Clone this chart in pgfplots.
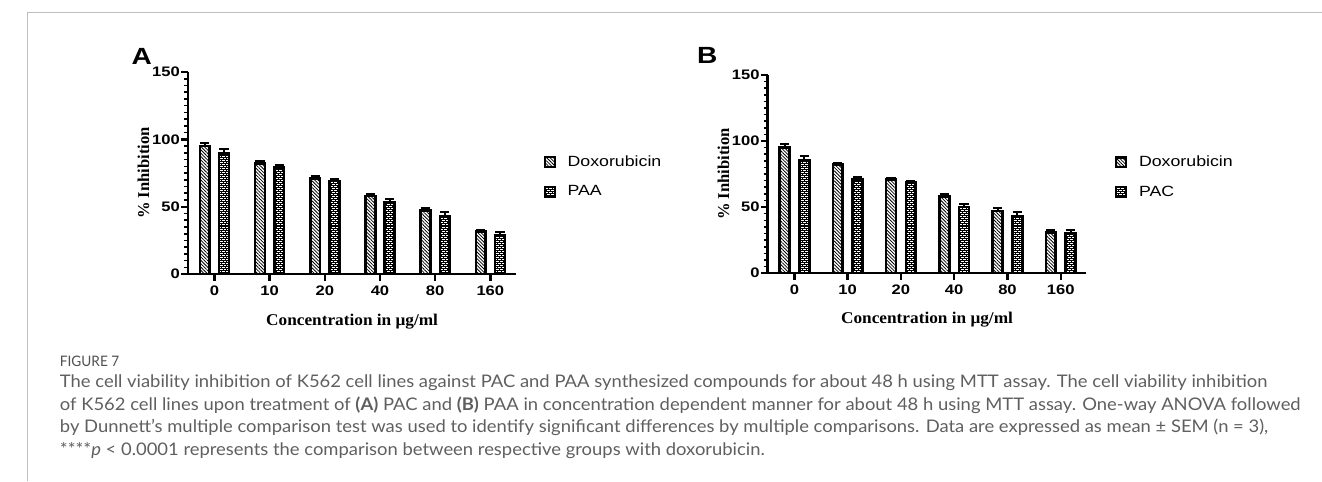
\documentclass[border=0pt]{standalone}
\usepackage{pgfplots}
\pgfplotsset{compat=1.18}
\usepackage{fontspec}
\usetikzlibrary{patterns,patterns.meta}
\setmainfont{Liberation Sans}
\newfontfamily\chartsans[FakeStretch=1.2]{Liberation Sans}
\newfontfamily\labelserif{Liberation Serif}
\newfontfamily\xlabelserif[FakeStretch=1.05]{Liberation Serif}
\newfontfamily\capfont{Lato}
\definecolor{framegray}{RGB}{190,190,190}
\definecolor{capgray}{RGB}{95,95,95}
\definecolor{figgray}{RGB}{80,80,80}

\pgfdeclarepatternformonly{minibricks}{\pgfqpoint{-0.5pt}{-0.5pt}}{\pgfqpoint{3.5pt}{3.5pt}}{\pgfqpoint{3pt}{3pt}}{%
  \pgfsetlinewidth{0.5pt}%
  \pgfpathmoveto{\pgfqpoint{0pt}{0pt}}\pgfpathlineto{\pgfqpoint{3pt}{0pt}}%
  \pgfpathmoveto{\pgfqpoint{0pt}{1.5pt}}\pgfpathlineto{\pgfqpoint{3pt}{1.5pt}}%
  \pgfpathmoveto{\pgfqpoint{0pt}{0pt}}\pgfpathlineto{\pgfqpoint{0pt}{1.5pt}}%
  \pgfpathmoveto{\pgfqpoint{1.5pt}{1.5pt}}\pgfpathlineto{\pgfqpoint{1.5pt}{3pt}}%
  \pgfusepath{stroke}}

\tikzset{
  doxpat/.style={pattern={Lines[angle=-45,distance=1.8pt,line width=0.6pt]}},
  brickpat/.style={pattern=minibricks, pattern color=black},
}

\pgfplotsset{
  sqlegend/.style={legend image code/.code={\draw[##1,line width=1.6pt] (0pt,-3.75pt) rectangle (7.5pt,3.75pt);}},
  prism/.style={
    scale only axis, anchor=south west,
    axis x line=bottom, axis y line=left,
    axis line style={line width=2pt,-},
    every tick/.style={black},
    every major tick/.append style={line width=1.8pt},
    every minor tick/.append style={line width=1.2pt},
    tick align=outside,
    major tick length=5pt, minor tick length=3pt,
    ymin=0, ymax=150, ytick={0,50,100,150}, yticklabels={0,50,100,150},
    minor y tick num=9,
    xtick={0,1,2,3,4,5}, xticklabels={0,10,20,40,80,160},
    ticklabel style={font=\chartsans\bfseries\fontsize{10.5}{12}\selectfont},
    yticklabel style={inner xsep=1pt},
    ybar, bar width=7.5pt,
    enlargelimits=false,
    xlabel style={font=\xlabelserif\bfseries\fontsize{12.5}{14}\selectfont, at={(axis description cs:0.5,-0.254)}, anchor=base},
    ylabel style={font=\labelserif\bfseries\fontsize{12.6}{14}\selectfont, anchor=center},
    legend style={draw=none, fill=none, anchor=north west, inner sep=0pt,
      font=\chartsans\fontsize{11.25}{13}\selectfont,
      cells={anchor=west}, row sep=9pt, column sep=7pt},
    /pgfplots/error bars/y dir=plus,
    /pgfplots/error bars/y explicit,
    /pgfplots/error bars/error bar style={line width=1.5pt, black},
    /pgfplots/error bars/error mark options={rotate=90, mark size=3.5pt, line width=1.5pt, black},
  },
  doxbar/.style={draw=black, line width=2pt, doxpat, sqlegend},
  cmpbar/.style={draw=black, line width=2pt, brickpat, sqlegend},
}

\newlength\capw
\newlength\figw
\newlength\thecellw
\newcommand\linetwo{of K562 cell lines upon treatment of \textbf{(A)} PAC and \textbf{(B)} PAA in concentration dependent manner for about 48 h using MTT assay. One-way ANOVA followed}

\begin{document}
\settowidth\capw{\capfont\fontsize{13.2}{15}\selectfont\linetwo}
\pgfmathsetmacro\capscale{943.5/\capw}
\settowidth\thecellw{\capfont\fontsize{13.2}{15}\selectfont The cell}
\settowidth\figw{\capfont\fontsize{11}{13}\selectfont FIGURE 7}
\pgfmathsetmacro\figscale{0.95*\capscale*\thecellw/\figw}
\begin{tikzpicture}
\path[use as bounding box] (0pt,0pt) rectangle (991.5pt,366pt);
\draw[framegray, line width=0.75pt] (6.75pt,0pt) -- (6.75pt,356.25pt) -- (991.5pt,356.25pt);

% Panel A
\begin{axis}[prism,
  at={(129pt,157.5pt)}, width=249.75pt, height=153.75pt,
  xmin=-0.48, xmax=5.47,
  xlabel={Concentration in μg/ml},
  ylabel={\% Inhibition},
  ylabel style={at={(axis description cs:-0.135,0.5)}},
  legend style={at={(axis description cs:1.083,0.60)}},
]
\addplot[doxbar, bar shift=-7.3pt] coordinates {
  (0,95) +- (0,2.5) (1,82) +- (0,2) (2,71) +- (0,1.5)
  (3,58) +- (0,1.8) (4,47) +- (0,2) (5,31.5) +- (0,1.5)};
\addplot[cmpbar, bar shift=7.3pt] coordinates {
  (0,90) +- (0,2.8) (1,79) +- (0,2) (2,69) +- (0,1.5)
  (3,53.5) +- (0,2) (4,43) +- (0,3) (5,28.5) +- (0,2.5)};
\legend{Doxorubicin, PAA}
\end{axis}

% Panel B
\begin{axis}[prism,
  at={(570pt,158.25pt)}, width=242.25pt, height=150.75pt,
  xmin=-0.5, xmax=5.48,
  xlabel={Concentration in μg/ml},
  ylabel={\% Inhibition},
  ylabel style={at={(axis description cs:-0.139,0.5)}},
  legend style={at={(axis description cs:1.09,0.605)}},
]
\addplot[doxbar, bar shift=-7.5pt] coordinates {
  (0,95) +- (0,2.5) (1,82) +- (0,1.5) (2,71) +- (0,1.3)
  (3,58) +- (0,1.8) (4,47) +- (0,2) (5,31) +- (0,1.5)};
\addplot[cmpbar, bar shift=7.5pt] coordinates {
  (0,85.5) +- (0,3.5) (1,71) +- (0,2) (2,68.5) +- (0,1.3)
  (3,50) +- (0,2) (4,43) +- (0,3) (5,30.5) +- (0,2.5)};
\legend{Doxorubicin, PAC}
\end{axis}

\node[anchor=base west, inner sep=0pt, font=\chartsans\bfseries\fontsize{17.8}{20}\selectfont] at (86pt,317.25pt) {A};
\node[anchor=base west, inner sep=0pt, font=\chartsans\bfseries\fontsize{17.8}{20}\selectfont] at (516pt,318pt) {B};

% Caption
\node[anchor=base west, inner sep=0pt, text=figgray, xscale=\figscale, font=\capfont\fontsize{11}{13}\selectfont] at (31.5pt,87.25pt) {FIGURE 7};
\begin{scope}[every node/.style={anchor=base west, inner sep=0pt, text=capgray, xscale=\capscale, font=\capfont\fontsize{13.2}{15}\selectfont}]
\node at (31.5pt,71.25pt) {The cell viability inhibition of K562 cell lines against PAC and PAA synthesized compounds for about 48 h using MTT assay. The cell viability inhibition};
\node at (31.5pt,54pt) {\linetwo};
\node at (31.5pt,36.75pt) {by Dunnett’s multiple comparison test was used to identify significant differences by multiple comparisons. Data are expressed as mean ± SEM (n = 3),};
\node at (31.5pt,19.5pt) {****\textit{p} < 0.0001 represents the comparison between respective groups with doxorubicin.};
\end{scope}
\end{tikzpicture}
\end{document}
